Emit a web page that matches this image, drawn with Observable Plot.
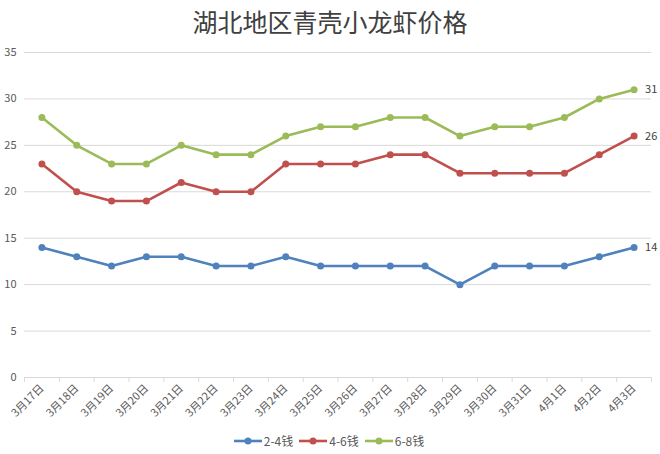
<!DOCTYPE html>
<html><head><meta charset="utf-8">
<script src="https://cdn.jsdelivr.net/npm/d3@7"></script>
<script src="https://cdn.jsdelivr.net/npm/@observablehq/plot@0.6"></script>
<style>
body{margin:0;background:#fff;font-family:"Noto Sans CJK SC","Noto Sans",sans-serif;width:660px;height:454px;overflow:hidden}
#title{height:45px;line-height:42px;text-align:center;font-size:25px;color:#404040}
#chart svg{display:block;overflow:visible}
#legend{display:flex;justify-content:center;align-items:center;height:31px;font-size:12px;color:#595959;margin-left:-2px}
#legend .item{display:flex;align-items:center;margin:0 3px}
#legend svg{margin-right:2px}
</style></head>
<body>
<div id="title">湖北地区青壳小龙虾价格</div>
<div id="chart"></div>
<div id="legend"></div>
<script>
const dates = ["3月17日","3月18日","3月19日","3月20日","3月21日","3月22日","3月23日","3月24日","3月25日","3月26日","3月27日","3月28日","3月29日","3月30日","3月31日","4月1日","4月2日","4月3日"];
const series = ["2-4钱","4-6钱","6-8钱"];
const s24 = [14,13,12,13,13,12,12,13,12,12,12,12,10,12,12,12,13,14];
const s46 = [23,20,19,19,21,20,20,23,23,23,24,24,22,22,22,22,24,26];
const s68 = [28,25,23,23,25,24,24,26,27,27,28,28,26,27,27,28,30,31];
const yTicks = [0,5,10,15,20,25,30,35];
const colors = ["#4F81BD","#C0504D","#9BBB59"];

const values = [s24, s46, s68];
const rows = values.flatMap((arr, k) => arr.map((v, i) => ({i, v, s: series[k]})));
const last = values.map((arr, k) => ({i: arr.length - 1, v: arr[arr.length - 1], s: series[k]}));

const chart = Plot.plot({
  width: 660, height: 380,
  marginLeft: 24, marginRight: 9, marginTop: 7, marginBottom: 48,
  style: {fontFamily: '"Noto Sans CJK SC","Noto Sans",sans-serif', background: "#fff"},
  x: {type: "linear", domain: [-0.5, dates.length - 0.5]},
  y: {domain: [0, 35]},
  color: {domain: series, range: colors},
  marks: [
    Plot.ruleY(yTicks, {stroke: "#d9d9d9", strokeWidth: 1}),
    Plot.axisY({ticks: yTicks, tickSize: 0, tickPadding: 8, label: null, fontSize: 11, color: "#595959"}),
    Plot.axisX({ticks: d3.range(dates.length + 1).map(d => d - 0.5), tickSize: 5, tickFormat: () => "", stroke: "#d9d9d9", label: null}),
    Plot.axisX({ticks: d3.range(dates.length), tickSize: 0, tickPadding: 9, tickRotate: -45, tickFormat: i => dates[i], label: null, fontSize: 11, color: "#595959"}),
    Plot.line(rows, {x: "i", y: "v", z: "s", stroke: "s", strokeWidth: 2.6}),
    Plot.dot(rows, {x: "i", y: "v", fill: "s", r: 3.5}),
    Plot.text(last, {x: "i", y: "v", text: d => String(d.v), dx: 11, textAnchor: "start", fontSize: 11, fill: "#404040"})
  ]
});
document.getElementById("chart").appendChild(chart);

const legend = document.getElementById("legend");
series.forEach((s, k) => {
  const item = document.createElement("div");
  item.className = "item";
  item.innerHTML = `<svg width="28" height="10"><line x1="0" y1="5" x2="28" y2="5" stroke="${colors[k]}" stroke-width="2.6"/><circle cx="14" cy="5" r="3.5" fill="${colors[k]}"/></svg><span>${s}</span>`;
  legend.appendChild(item);
});
</script>
</body></html>
